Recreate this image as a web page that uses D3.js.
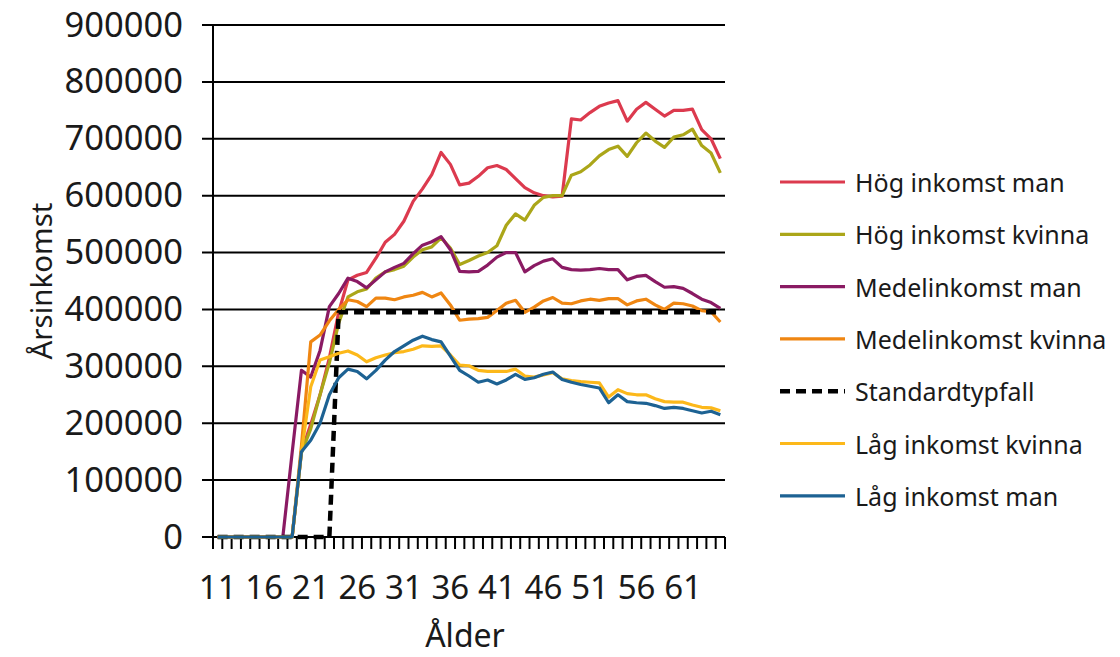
<!DOCTYPE html>
<html><head><meta charset="utf-8">
<script src="https://cdn.jsdelivr.net/npm/d3@7"></script>
<style>body{margin:0;background:#fff}svg{display:block}text{font-family:"Noto Sans",sans-serif;fill:#1a1a1a}</style>
</head><body>
<svg id="c" width="1120" height="657"></svg>
<script>
const ages = [11,12,13,14,15,16,17,18,19,20,21,22,23,24,25,26,27,28,29,30,31,32,33,34,35,36,37,38,39,40,41,42,43,44,45,46,47,48,49,50,51,52,53,54,55,56,57,58,59,60,61,62,63,64,65];
const xTickLabels = ["11","16","21","26","31","36","41","46","51","56","61"];
const yTicks = [0,100000,200000,300000,400000,500000,600000,700000,800000,900000];

const hogMan = [0,0,0,0,0,0,0,0,0,150000,198000,250000,315000,395000,452000,460000,465000,490000,518000,532000,555000,590000,612000,637000,676000,655000,619000,622000,634000,649000,653000,646000,630000,614000,605000,600000,598000,599000,735000,733000,746000,757000,763000,767000,731000,752000,764000,752000,740000,750000,750000,752000,716000,700000,665000];
const hogKvinna = [0,0,0,0,0,0,0,0,0,148000,190000,250000,306000,376000,422000,431000,436000,455000,466000,470000,476000,492000,505000,510000,526000,508000,479000,486000,494000,500000,512000,548000,568000,557000,583000,597000,600000,600000,636000,642000,654000,670000,681000,687000,669000,693000,710000,696000,685000,703000,707000,717000,688000,675000,640000];
const medelMan = [0,0,0,0,0,0,0,0,148000,293000,281000,328000,405000,428000,455000,449000,438000,452000,466000,474000,481000,498000,513000,519000,528000,505000,467000,466000,467000,478000,492000,500000,500000,466000,477000,485000,489000,474000,470000,469000,470000,472000,470000,470000,452000,458000,460000,449000,439000,440000,437000,428000,418000,412000,402000];
const medelKvinna = [0,0,0,0,0,0,0,0,0,160000,343000,355000,380000,400000,417000,414000,405000,420000,420000,417000,422000,425000,430000,422000,429000,408000,381000,383000,384000,386000,398000,411000,416000,395000,404000,415000,421000,411000,410000,415000,418000,416000,419000,419000,408000,415000,418000,408000,400000,411000,410000,406000,398000,396000,378000];
const standard = [0,0,0,0,0,0,0,0,0,0,0,0,0,395000,395000,395000,395000,395000,395000,395000,395000,395000,395000,395000,395000,395000,395000,395000,395000,395000,395000,395000,395000,395000,395000,395000,395000,395000,395000,395000,395000,395000,395000,395000,395000,395000,395000,395000,395000,395000,395000,395000,395000,395000,395000];
const lagKvinna = [0,0,0,0,0,0,0,0,0,150000,264000,311000,317000,323000,327000,320000,308000,315000,320000,324000,326000,330000,336000,335000,336000,320000,302000,301000,293000,291000,291000,291000,295000,283000,281000,285000,289000,278000,275000,273000,272000,271000,246000,259000,252000,250000,250000,243000,238000,237000,237000,232000,228000,227000,222000];
const lagMan = [0,0,0,0,0,0,0,0,0,150000,170000,200000,250000,280000,295000,291000,278000,293000,311000,326000,336000,346000,353000,347000,343000,318000,293000,283000,272000,276000,269000,276000,286000,277000,280000,286000,290000,277000,272000,268000,265000,262000,236000,250000,238000,236000,235000,231000,226000,228000,226000,222000,218000,221000,215000];

const seriesNames = ["Hög inkomst man","Hög inkomst kvinna","Medelinkomst man","Medelinkomst kvinna","Standardtypfall","Låg inkomst kvinna","Låg inkomst man"];
const seriesValues = [hogMan,hogKvinna,medelMan,medelKvinna,standard,lagKvinna,lagMan];
const seriesColors = ["#dc3a4e","#aba619","#8a1a63","#ef8612","#000000","#fcb81a","#1d6293"];

const svg = d3.select("#c");
const L = 213, R = 725, T = 25, B = 537;
const x = d3.scaleBand().domain(ages).range([L, R]).padding(0);
const y = d3.scaleLinear().domain([0, 900000]).range([B, T]);
const cx = a => x(a) + x.bandwidth()/2;

// gridlines
svg.append("g").selectAll("line").data(yTicks).join("line")
  .attr("x1", L - 11).attr("x2", R).attr("y1", d => y(d)).attr("y2", d => y(d))
  .attr("stroke", "#000").attr("stroke-width", 2);

// y axis labels
const yAxis = d3.axisLeft(y).tickValues(yTicks).tickSize(0).tickPadding(30).tickFormat(d => String(d));
const gy = svg.append("g").attr("transform", `translate(${L},0)`).call(yAxis);
gy.select(".domain").remove();
gy.selectAll("text").style("font-size", "34.5px").style("font-family", '"Noto Sans",sans-serif').attr("fill", "#1a1a1a");

// y axis line
svg.append("line").attr("x1", L).attr("x2", L).attr("y1", T).attr("y2", B).attr("stroke", "#000").attr("stroke-width", 2);

// x ticks at category boundaries
const bounds = ages.map(a => x(a)).concat([R]);
svg.append("g").selectAll("line").data(bounds).join("line")
  .attr("x1", d => d).attr("x2", d => d).attr("y1", B).attr("y2", B + 12)
  .attr("stroke", "#000").attr("stroke-width", 2);

// x labels
svg.append("g").selectAll("text").data(xTickLabels).join("text")
  .attr("x", d => cx(+d)).attr("y", 586).attr("text-anchor", "middle").attr("dominant-baseline", "central")
  .style("font-size", "33px").text(d => d);

// axis titles
svg.append("text").attr("transform", "translate(40,281) rotate(-90)").attr("text-anchor", "middle")
  .attr("dominant-baseline", "central").style("font-size", "29.5px").text("Årsinkomst");
svg.append("text").attr("x", 465).attr("y", 634).attr("text-anchor", "middle")
  .attr("dominant-baseline", "central").style("font-size", "32px").text("Ålder");

// lines
const line = d3.line().x((d, i) => cx(ages[i])).y(d => y(d));
seriesValues.forEach((vals, k) => {
  const p = svg.append("path").datum(vals).attr("d", line).attr("fill", "none")
    .attr("stroke", seriesColors[k]).attr("stroke-width", k === 4 ? 4.5 : 3.2)
    .attr("stroke-linejoin", "round");
  if (k === 4) p.attr("stroke-dasharray", "10,6");
});

// legend
const lg = svg.append("g");
seriesNames.forEach((n, k) => {
  const yy = 182 + k * 52.3;
  const l = lg.append("line").attr("x1", 780).attr("x2", 845).attr("y1", yy).attr("y2", yy)
    .attr("stroke", seriesColors[k]).attr("stroke-width", k === 4 ? 4.5 : 3.2);
  if (k === 4) l.attr("stroke-dasharray", "10,6");
  lg.append("text").attr("x", 855).attr("y", yy).attr("dominant-baseline", "central")
    .style("font-size", "25px").text(n);
});
</script>
</body></html>
